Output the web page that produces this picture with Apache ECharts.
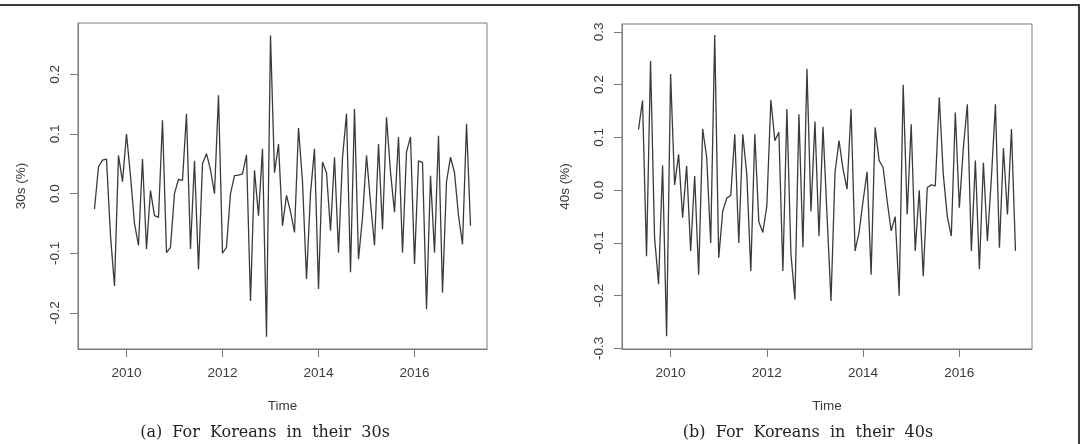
<!DOCTYPE html>
<html>
<head>
<meta charset="utf-8">
<title>Monthly change, Koreans in their 30s and 40s</title>
<script src="https://cdn.jsdelivr.net/npm/echarts@6/dist/echarts.min.js"></script>
<style>
  html, body { margin: 0; padding: 0; background: #fff; }
  #chart { width: 1084px; height: 444px; }
</style>
</head>
<body>
<div id="chart"></div>
<script>
// monthly series, May 2009 .. Mar 2017 (95 months)
const startYear = 2009;
const startMonth = 5;

const xTicks = [2010, 2012, 2014, 2016];
const yTicks30 = [-0.2, -0.1, 0, 0.1, 0.2];
const yTicks40 = [-0.3, -0.2, -0.1, 0, 0.1, 0.2, 0.3];

const values30 = [
  -0.026, 0.045, 0.056, 0.058, -0.07, -0.155, 0.064, 0.02, 0.1, 0.03,
  -0.05, -0.087, 0.058, -0.093, 0.005, -0.037, -0.04, 0.123, -0.099, -0.09,
  0.0, 0.024, 0.022, 0.134, -0.093, 0.055, -0.127, 0.05, 0.067, 0.04,
  0.0, 0.165, -0.1, -0.09, 0.0, 0.03, 0.031, 0.033, 0.065, -0.18,
  0.039, -0.037, 0.075, -0.24, 0.265, 0.035, 0.083, -0.054, -0.003, -0.03,
  -0.065, 0.11, 0.02, -0.143, 0.0, 0.075, -0.16, 0.053, 0.035, -0.062,
  0.061, -0.099, 0.06, 0.134, -0.132, 0.142, -0.11, -0.04, 0.064, -0.015,
  -0.087, 0.083, -0.06, 0.128, 0.036, -0.031, 0.095, -0.099, 0.07, 0.095,
  -0.118, 0.055, 0.052, -0.194, 0.03, -0.099, 0.097, -0.166, 0.02, 0.061,
  0.035, -0.037, -0.085, 0.117, -0.054
];

const values40 = [
  0.115, 0.17, -0.125, 0.245, -0.09, -0.178, 0.047, -0.277, 0.22, 0.01,
  0.068, -0.052, 0.046, -0.115, 0.027, -0.16, 0.116, 0.062, -0.1, 0.294,
  -0.128, -0.04, -0.015, -0.01, 0.106, -0.1, 0.106, 0.03, -0.153, 0.106,
  -0.06, -0.08, -0.03, 0.171, 0.094, 0.11, -0.153, 0.154, -0.12, -0.207,
  0.144, -0.108, 0.23, -0.04, 0.13, -0.087, 0.12, -0.046, -0.21, 0.034,
  0.094, 0.04, 0.002, 0.154, -0.115, -0.08, -0.02, 0.035, -0.16, 0.119,
  0.056, 0.043, -0.02, -0.077, -0.05, -0.2, 0.2, -0.046, 0.125, -0.115,
  0.0, -0.163, 0.005, 0.01, 0.008, 0.176, 0.03, -0.05, -0.087, 0.147,
  -0.033, 0.08, 0.163, -0.115, 0.056, -0.15, 0.052, -0.096, 0.024, 0.163,
  -0.109, 0.08, -0.046, 0.116, -0.115
];

const yNames = ['30s (%)', '40s (%)'];
const captions = ['(a)  For  Koreans  in  their  30s', '(b)  For  Koreans  in  their  40s'];

const axisFont = 'Liberation Sans, Arial, sans-serif';
const textColor = '#3a3a3a';
const boxColor = '#7a7a7a';

// decimal year of each month, like R's time(ts)
const toSeries = (values) =>
  values.map((v, i) => [startYear + (startMonth - 1 + i) / 12, v]);

const makeXAxis = (gridIndex) => ({
  type: 'value',
  gridIndex,
  min: 2008.99,
  max: 2017.51,
  name: 'Time',
  nameLocation: 'middle',
  nameGap: 50,
  nameTextStyle: { color: textColor, fontFamily: axisFont, fontSize: 13.5 },
  axisLine: { show: true, onZero: false, lineStyle: { color: boxColor } },
  axisTick: { show: true, length: 8, customValues: xTicks, lineStyle: { color: boxColor } },
  axisLabel: {
    customValues: xTicks,
    margin: 17,
    color: textColor,
    fontFamily: axisFont,
    fontSize: 13.5,
    formatter: (v) => String(v)
  },
  splitLine: { show: false }
});

const makeYAxis = (gridIndex, min, max, ticks, name) => ({
  type: 'value',
  gridIndex,
  min,
  max,
  name,
  nameLocation: 'middle',
  nameRotate: 90,
  nameGap: 50,
  nameTextStyle: { color: textColor, fontFamily: axisFont, fontSize: 13.5 },
  axisLine: { show: true, onZero: false, lineStyle: { color: boxColor } },
  axisTick: { show: true, length: 8, customValues: ticks, lineStyle: { color: boxColor } },
  axisLabel: {
    customValues: ticks,
    rotate: 90,
    margin: 16,
    color: textColor,
    fontFamily: axisFont,
    fontSize: 13.5,
    formatter: (v) => v.toFixed(1)
  },
  splitLine: { show: false }
});

const makeLine = (values, index) => ({
  type: 'line',
  xAxisIndex: index,
  yAxisIndex: index,
  data: toSeries(values),
  showSymbol: false,
  silent: true,
  lineStyle: { color: '#3a3a3a', width: 1.3 }
});

const chart = echarts.init(document.getElementById('chart'));

chart.setOption({
  animation: false,
  backgroundColor: '#fff',
  grid: [
    { left: 78, top: 23, width: 409, height: 326, show: true, borderColor: boxColor, borderWidth: 1 },
    { left: 622, top: 24, width: 410, height: 325, show: true, borderColor: boxColor, borderWidth: 1 }
  ],
  xAxis: [makeXAxis(0), makeXAxis(1)],
  yAxis: [
    makeYAxis(0, -0.2605, 0.286, yTicks30, yNames[0]),
    makeYAxis(1, -0.301, 0.315, yTicks40, yNames[1])
  ],
  series: [makeLine(values30, 0), makeLine(values40, 1)],
  graphic: [
    // outer frame (top and right edges)
    { type: 'line', shape: { x1: 0, y1: 5, x2: 1080, y2: 5 }, style: { stroke: '#3c3c3c', lineWidth: 2 } },
    { type: 'line', shape: { x1: 1079, y1: 4, x2: 1079, y2: 444 }, style: { stroke: '#3c3c3c', lineWidth: 2 } },
    {
      type: 'text', x: 265, y: 433,
      style: { text: captions[0], fill: '#222', font: '16px "DejaVu Serif", serif', textAlign: 'center', textVerticalAlign: 'middle' }
    },
    {
      type: 'text', x: 808, y: 433,
      style: { text: captions[1], fill: '#222', font: '16px "DejaVu Serif", serif', textAlign: 'center', textVerticalAlign: 'middle' }
    }
  ]
});
</script>
</body>
</html>
